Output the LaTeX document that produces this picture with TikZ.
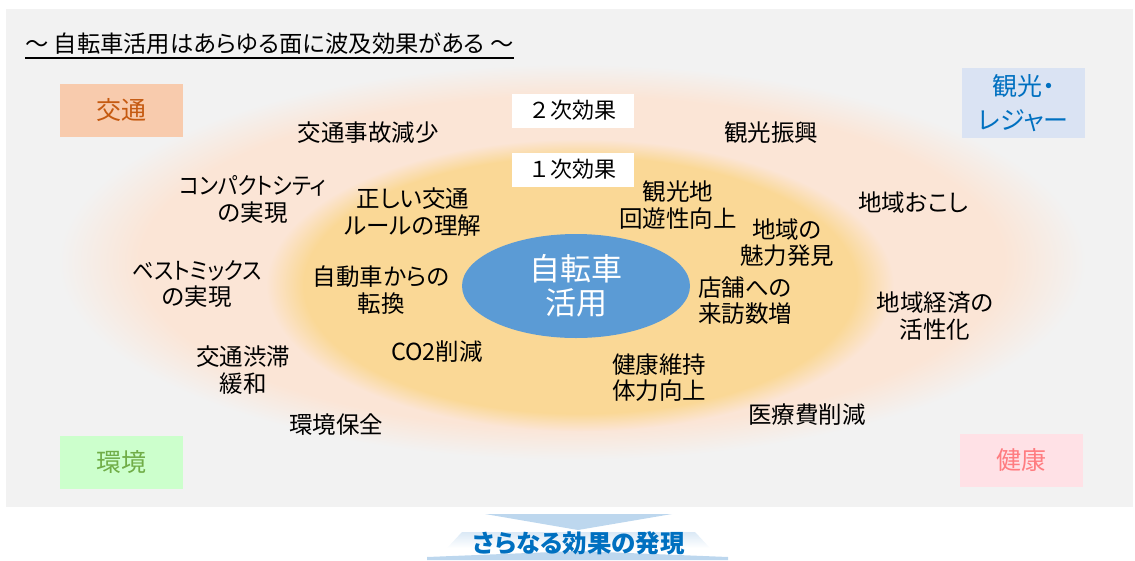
\documentclass[tikz,border=0pt]{standalone}
\usepackage{fontspec}
\usetikzlibrary{shapes.geometric}
\newfontfamily\jp[RawFeature=+palt]{Noto Sans CJK JP}
\newfontfamily\jpfw{Noto Sans CJK JP}
\definecolor{bggray}{HTML}{F2F2F2}
\definecolor{peach}{HTML}{FBE5D6}
\definecolor{gold}{HTML}{FAD896}
\definecolor{cblue}{HTML}{5B9BD5}
\definecolor{arrowblue}{HTML}{BDD7EE}
\definecolor{trafficfill}{HTML}{F8CBAD}
\definecolor{traffictext}{HTML}{C55A11}
\definecolor{tourfill}{HTML}{DAE3F3}
\definecolor{tourtext}{HTML}{0070C0}
\definecolor{envfill}{HTML}{CCFFCC}
\definecolor{envtext}{HTML}{70AD47}
\definecolor{healthfill}{HTML}{FFE1E6}
\definecolor{healthtext}{HTML}{FF7C80}
\pgfdeclareradialshading{outerglow}{\pgfpoint{0bp}{0bp}}{color(0bp)=(peach); color(21bp)=(peach); color(25bp)=(bggray); color(50bp)=(bggray)}
\pgfdeclareradialshading{innerglow}{\pgfpoint{0bp}{0bp}}{color(0bp)=(gold); color(22bp)=(gold); color(25bp)=(peach); color(50bp)=(peach)}
\tikzset{
  lbl/.style={font=\jp\fontsize{23.5}{26.5}\selectfont, align=center, inner sep=0pt, text=black},
  cornerbox/.style={minimum width=123pt, inner sep=0pt, align=center, font=\jp\fontsize{25}{34}\selectfont},
  levelbox/.style={fill=white, minimum width=122pt, minimum height=34pt, inner sep=0pt, font=\jpfw\fontsize{22}{26}\selectfont}
}
\begin{document}
\begin{tikzpicture}[x=1pt,y=-1pt]
\useasboundingbox (0,0) rectangle (1135,560);
\fill[bggray] (6,9) rectangle (1133,507);
% title
\node[inner sep=0pt, anchor=west, font=\jp\fontsize{23.3}{27}\selectfont] (title) at (25,44) {～ 自転車活用はあらゆる面に波及効果がある ～};
\draw[line width=1.5pt] ([yshift=-5pt]title.base west) -- ([yshift=-5pt]title.base east);
% glows
\shade[shading=outerglow] (572,262) ellipse [x radius=514pt, y radius=198pt];
\shade[shading=innerglow] (580,285) ellipse [x radius=314pt, y radius=146pt];
% core
\node[ellipse, fill=cblue, minimum width=228pt, minimum height=104pt, inner sep=0pt] (core) at (576,286) {};
\node[font=\jp\fontsize{31}{34}\selectfont, text=white, align=center, inner sep=0pt] (coretext) at (core.center) {自転車\\活用};
% level labels
\node[levelbox] (second) at (572.5,110.5) {２次効果};
\node[levelbox] (first) at (572.5,169.5) {１次効果};
% corner boxes
\node[cornerbox, fill=trafficfill, text=traffictext, minimum height=53pt] (traffic) at (121.5,110.5) {交通};
\node[cornerbox, fill=tourfill, text=tourtext, minimum height=70pt] (tour) at (1023.5,103) {観光・\\レジャー};
\node[cornerbox, fill=envfill, text=envtext, minimum height=53pt] (env) at (121.5,462.5) {環境};
\node[cornerbox, fill=healthfill, text=healthtext, minimum height=53pt] (health) at (1021.5,460.5) {健康};
% effect labels
\node[lbl] (t1) at (368,133) {交通事故減少};
\node[lbl] (t2) at (771,133) {観光振興};
\node[lbl] (t3) at (253,199.5) {\scalebox{0.89}[1]{コンパクトシティ}\\の実現};
\node[lbl] (t4) at (913,203) {地域おこし};
\node[lbl] (t5) at (413,212) {正しい交通\\ルールの理解};
\node[lbl] (t6) at (678,205) {観光地\\回遊性向上};
\node[lbl] (t7) at (787,242.5) {地域の\\魅力発見};
\node[lbl] (t8) at (197,284) {\scalebox{0.91}[1]{ベストミックス}\\の実現};
\node[lbl] (t9) at (381,290) {自動車からの\\転換};
\node[lbl] (t10) at (745,300.5) {店舗への\\来訪数増};
\node[lbl] (t11) at (935,316) {地域経済の\\活性化};
\node[lbl] (t12) at (437,352) {CO2削減};
\node[lbl] (t13) at (243,370) {交通渋滞\\緩和};
\node[lbl] (t14) at (659,377.5) {健康維持\\体力向上};
\node[lbl] (t15) at (807,415) {医療費削減};
\node[lbl] (t16) at (336,425) {環境保全};
% bottom arrow
\fill[arrowblue] (485,514) -- (672,514) -- (578,530) -- cycle;
\shade[top color=arrowblue!55, bottom color=white] (462,532) -- (695,532) -- (710,548) -- (447,548) -- cycle;
\fill[arrowblue] (427,557) -- (578,551) -- (728,557) -- (728,560) -- (427,560) -- cycle;
\node[inner sep=0pt, font=\jp\bfseries\fontsize{24.5}{28}\selectfont, text=tourtext] (more) at (579,543) {さらなる効果の発現};
\end{tikzpicture}
\end{document}
